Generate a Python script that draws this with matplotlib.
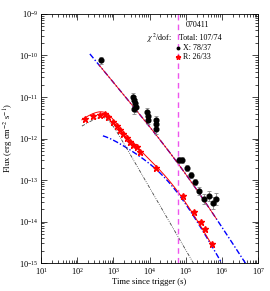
import numpy as np
import matplotlib
matplotlib.use('Agg')
import matplotlib.pyplot as plt

plt.rcParams['font.family'] = ['Liberation Serif', 'DejaVu Serif']
plt.rcParams['mathtext.fontset'] = 'stix'

# X-ray data (log10 t [s], log10 flux)
x_logt = [2.66, 3.55, 3.58, 3.60, 3.62, 3.58, 3.94, 3.97, 3.96, 4.17, 4.19, 4.18,
          4.81, 4.90, 5.03, 5.14, 5.25, 5.36, 5.50, 5.64, 5.75, 5.83]
x_logf = [-10.12, -11.00, -11.08, -11.15, -11.25, -11.30, -11.36, -11.45, -11.55,
          -11.55, -11.65, -11.78, -12.52, -12.52, -12.71, -12.88, -13.05, -13.27,
          -13.46, -13.39, -13.55, -13.46]
x_err = [0.08, 0.10, 0.10, 0.10, 0.10, 0.10, 0.10, 0.10, 0.10, 0.10, 0.10, 0.10,
         0.08, 0.08, 0.08, 0.08, 0.08, 0.10, 0.12, 0.12, 0.14, 0.14]

# optical (R) data
r_logt = [2.22, 2.44, 2.63, 2.77, 2.85, 2.99, 3.10, 3.18, 3.27, 3.38, 3.46, 3.54,
          3.65, 3.73, 4.18, 4.92, 5.23, 5.42, 5.53, 5.72]
r_logf = [-11.53, -11.46, -11.43, -11.41, -11.48, -11.60, -11.70, -11.80, -11.89,
          -11.99, -12.08, -12.16, -12.20, -12.33, -12.71, -13.39, -13.77, -14.01,
          -14.18, -14.54]
r_err = [0.06] * 14 + [0.06, 0.05, 0.06, 0.08, 0.08, 0.06]

t_mark = 6.0e4


def bpl(t, amp, tb, a1, a2, s):
    x = t / tb
    return amp * (x ** (a1 * s) + x ** (a2 * s)) ** (-1.0 / s)


def xray_model(t):
    return bpl(t, 10 ** -12.65, 10 ** 4.91, 1.05, 1.35, 3.0)


def opt_gray(t):
    return bpl(t, 10 ** -11.37, 10 ** 2.79, -0.5, 1.5, 2.0)


def opt_blue(t):
    rise = 1.0 / (1.0 + (t / 10 ** 2.3) ** -2)
    return bpl(t, 10 ** -12.81, 10 ** 4.59, 0.5, 1.55, 1.0) * rise


fig = plt.figure(figsize=(2.70, 2.91), dpi=100)
ax = fig.add_axes([0.152, 0.096, 0.804, 0.856])
ax.set_xscale('log')
ax.set_yscale('log')
ax.set_xlim(1e1, 1e7)
ax.set_ylim(1e-15, 1e-9)

dashdot = (0, (4, 1.5, 1, 1.5))

# model curves
tt = np.logspace(2.35, 7, 300)
ax.plot(tt, xray_model(tt), color='blue', lw=1.0, ls=dashdot)
tt = np.logspace(2.71, 7, 300)
ax.plot(tt, opt_blue(tt), color='blue', lw=1.0, ls=dashdot)
tt = np.logspace(2.13, 7, 300)
ax.plot(tt, opt_gray(tt), color='#444444', lw=0.6, ls=(0, (4, 1.5, 1, 1.5, 1, 1.5)))
tt = np.logspace(2.13, 5.75, 300)
ax.plot(tt, opt_gray(tt) + opt_blue(tt), color='red', lw=0.7)
tt = np.logspace(2.6, 5.85, 300)
ax.plot(tt, xray_model(tt), color='red', lw=0.6)

ax.axvline(t_mark, color='#ee55ee', lw=1.0, ls=(0, (4, 3)))

# data
xt = 10 ** np.array(x_logt)
xf = 10 ** np.array(x_logf)
xe = np.array(x_err)
ax.errorbar(xt, xf, yerr=[xf - xf * 10 ** -xe, xf * 10 ** xe - xf], xerr=xt * 0.04,
            fmt='o', color='black', ms=3.4, ecolor='#888888', elinewidth=0.6,
            capsize=1.2, capthick=0.6, zorder=5)
rt = 10 ** np.array(r_logt)
rf = 10 ** np.array(r_logf)
re = np.array(r_err)
ax.errorbar(rt, rf, yerr=[rf - rf * 10 ** -re, rf * 10 ** re - rf], xerr=rt * 0.05,
            fmt='*', color='red', ms=4.5, mfc='red', mec='red', ecolor='#ff9999',
            elinewidth=1.0, capsize=0, zorder=4)

ax.tick_params(which='both', direction='in', top=True, right=True, labelsize=6,
               pad=2, width=0.5)
ax.tick_params(which='major', length=4)
ax.tick_params(which='minor', length=2)
ax.xaxis.set_major_locator(matplotlib.ticker.LogLocator(base=10, numticks=10))
ax.yaxis.set_major_locator(matplotlib.ticker.LogLocator(base=10, numticks=10))
ax.xaxis.set_minor_locator(matplotlib.ticker.LogLocator(base=10, subs=np.arange(2, 10), numticks=20))
ax.yaxis.set_minor_locator(matplotlib.ticker.LogLocator(base=10, subs=np.arange(2, 10), numticks=20))
for s in ax.spines.values():
    s.set_linewidth(0.6)

ax.set_xlabel('Time since trigger (s)', fontsize=6.2, labelpad=1)
ax.set_ylabel('Flux (erg cm$^{-2}$ s$^{-1}$)', fontsize=6.2, labelpad=2)

fs = 5.8
ax.text(0.723, 0.956, '070411', transform=ax.transAxes, fontsize=fs, ha='center', va='center')
ax.text(0.544, 0.904, r'$\chi^2$/dof:', transform=ax.transAxes, fontsize=fs, ha='center', va='center')
ax.text(0.636, 0.904, 'Total: 107/74', transform=ax.transAxes, fontsize=fs, ha='left', va='center')
ax.plot([0.631], [0.865], 'o', color='black', ms=1.8, transform=ax.transAxes)
ax.text(0.652, 0.865, 'X: 78/37', transform=ax.transAxes, fontsize=fs, ha='left', va='center')
ax.plot([0.631], [0.828], '*', color='red', ms=3.5, transform=ax.transAxes)
ax.text(0.652, 0.828, 'R: 26/33', transform=ax.transAxes, fontsize=fs, ha='left', va='center')

fig.savefig('out.png', dpi=100)
